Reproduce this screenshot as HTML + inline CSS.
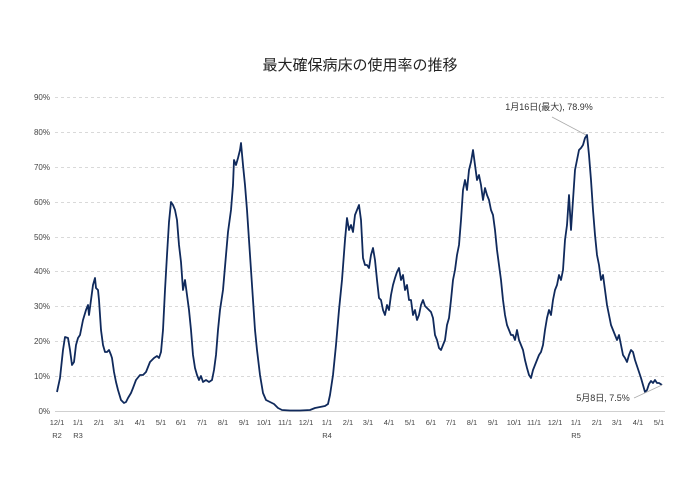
<!DOCTYPE html>
<html><head><meta charset="utf-8"><style>
body{margin:0;background:#fff;width:700px;height:495px;overflow:hidden;font-family:"Liberation Sans","Noto Sans CJK JP",sans-serif}
</style></head><body>
<svg width="700" height="495" xmlns="http://www.w3.org/2000/svg" font-family="Liberation Sans, Noto Sans CJK JP, sans-serif">
<text x="360" y="70" font-size="15" text-anchor="middle" fill="#222">最大確保病床の使用率の推移</text>
<g stroke="#d9d9d9" stroke-dasharray="3,3" stroke-width="1">
<line x1="55" x2="665" y1="97.5" y2="97.5"/><line x1="55" x2="665" y1="132.5" y2="132.5"/><line x1="55" x2="665" y1="167.5" y2="167.5"/><line x1="55" x2="665" y1="202.5" y2="202.5"/><line x1="55" x2="665" y1="237.5" y2="237.5"/><line x1="55" x2="665" y1="271.5" y2="271.5"/><line x1="55" x2="665" y1="306.5" y2="306.5"/><line x1="55" x2="665" y1="341.5" y2="341.5"/><line x1="55" x2="665" y1="376.5" y2="376.5"/>
</g>
<line x1="55" x2="665" y1="411.5" y2="411.5" stroke="#d0d0d0"/>
<g font-size="8" fill="#444" text-anchor="end">
<text x="50" y="100">90%</text><text x="50" y="135">80%</text><text x="50" y="170">70%</text><text x="50" y="205">60%</text><text x="50" y="240">50%</text><text x="50" y="274">40%</text><text x="50" y="309">30%</text><text x="50" y="344">20%</text><text x="50" y="379">10%</text><text x="50" y="414">0%</text>
</g>
<g font-size="7.5" fill="#444" text-anchor="middle">
<text x="57" y="425">12/1</text><text x="78" y="425">1/1</text><text x="99" y="425">2/1</text><text x="119" y="425">3/1</text><text x="140" y="425">4/1</text><text x="161" y="425">5/1</text><text x="181" y="425">6/1</text><text x="202" y="425">7/1</text><text x="223" y="425">8/1</text><text x="244" y="425">9/1</text><text x="264" y="425">10/1</text><text x="285" y="425">11/1</text><text x="306" y="425">12/1</text><text x="327" y="425">1/1</text><text x="348" y="425">2/1</text><text x="368" y="425">3/1</text><text x="389" y="425">4/1</text><text x="410" y="425">5/1</text><text x="431" y="425">6/1</text><text x="451" y="425">7/1</text><text x="472" y="425">8/1</text><text x="493" y="425">9/1</text><text x="514" y="425">10/1</text><text x="534" y="425">11/1</text><text x="555" y="425">12/1</text><text x="576" y="425">1/1</text><text x="597" y="425">2/1</text><text x="617" y="425">3/1</text><text x="638" y="425">4/1</text><text x="659" y="425">5/1</text>
<text x="57" y="438">R2</text><text x="78" y="438">R3</text><text x="327" y="438">R4</text><text x="576" y="438">R5</text>
</g>
<polyline fill="none" stroke="#102a5c" stroke-width="1.8" stroke-linejoin="round" points="57,392 60,378 63,350 65,337 68,338 70,350 72,365 74,362 76,345 78,338 80,335 83,320 86,310 88,305 89,315 91,300 93,285 95,278 96,288 98,290 99,300 101,330 103,345 105,352 107,352 109,350 111,355 112,358 114,372 116,382 118,390 121,400 124,403 126,402 128,398 131,393 133,388 136,380 140,375 143,375 146,372 150,362 154,358 157,356 159,358 161,352 163,330 165,290 167,255 169,222 171,202 173,205 175,210 177,220 179,245 181,262 183,290 185,280 187,295 189,310 191,330 193,355 195,368 197,375 199,380 201,376 203,382 206,380 209,382 212,380 214,370 216,355 218,330 220,310 223,290 226,255 228,232 231,210 233,185 234,160 236,165 238,158 240,150 241,143 243,165 245,185 247,210 249,240 251,270 253,300 255,330 257,350 260,375 263,393 266,400 270,402 274,404 278,408 282,410 290,410.5 300,410.5 310,410 315,408 320,407 325,406 328,404 330,395 333,375 336,345 339,310 342,280 345,240 347,218 349,230 351,225 353,232 355,215 357,210 359,205 361,220 363,258 365,265 367,265 369,268 371,255 373,248 375,260 377,280 379,298 381,300 383,310 385,315 387,305 389,310 391,295 393,285 395,278 397,272 399,268 401,280 403,275 405,290 407,285 409,300 411,300 413,315 415,310 417,320 419,315 421,305 423,300 425,306 427,308 429,310 431,312 433,318 435,335 437,340 439,348 441,350 443,345 445,340 447,325 449,318 451,300 453,280 455,270 457,255 459,245 461,220 463,190 465,180 467,190 469,170 471,162 473,150 475,165 477,180 479,175 481,185 483,200 485,188 487,195 489,200 491,210 493,215 495,230 497,250 499,265 501,280 503,300 505,315 507,325 509,330 511,335 513,335 515,340 517,330 519,340 521,345 523,350 525,360 527,368 529,375 531,378 533,370 535,365 537,360 539,355 541,352 543,345 545,330 547,318 549,310 551,315 553,300 555,290 557,285 559,275 561,280 563,270 565,240 567,225 569,195 571,230 573,200 575,170 577,160 579,150 581,148 583,145 585,138 587,135 589,155 591,180 593,210 595,235 597,255 599,265 601,280 603,275 605,290 607,305 609,315 611,325 613,330 615,335 617,340 619,335 621,345 623,355 625,358 627,362 629,355 631,350 633,352 635,360 637,366 639,372 641,378 643,385 645,392 647,390 649,384 651,381 653,383 655,380 657,383 659,383 662,385"/>
<line x1="552" y1="117" x2="586" y2="135" stroke="#aaa" stroke-width="0.8"/>
<text x="549" y="110" font-size="9" fill="#333" text-anchor="middle">1月16日(最大), 78.9%</text>
<line x1="634" y1="398" x2="662" y2="385" stroke="#aaa" stroke-width="0.8"/>
<text x="603" y="401" font-size="9" fill="#333" text-anchor="middle">5月8日, 7.5%</text>
</svg>
</body></html>
